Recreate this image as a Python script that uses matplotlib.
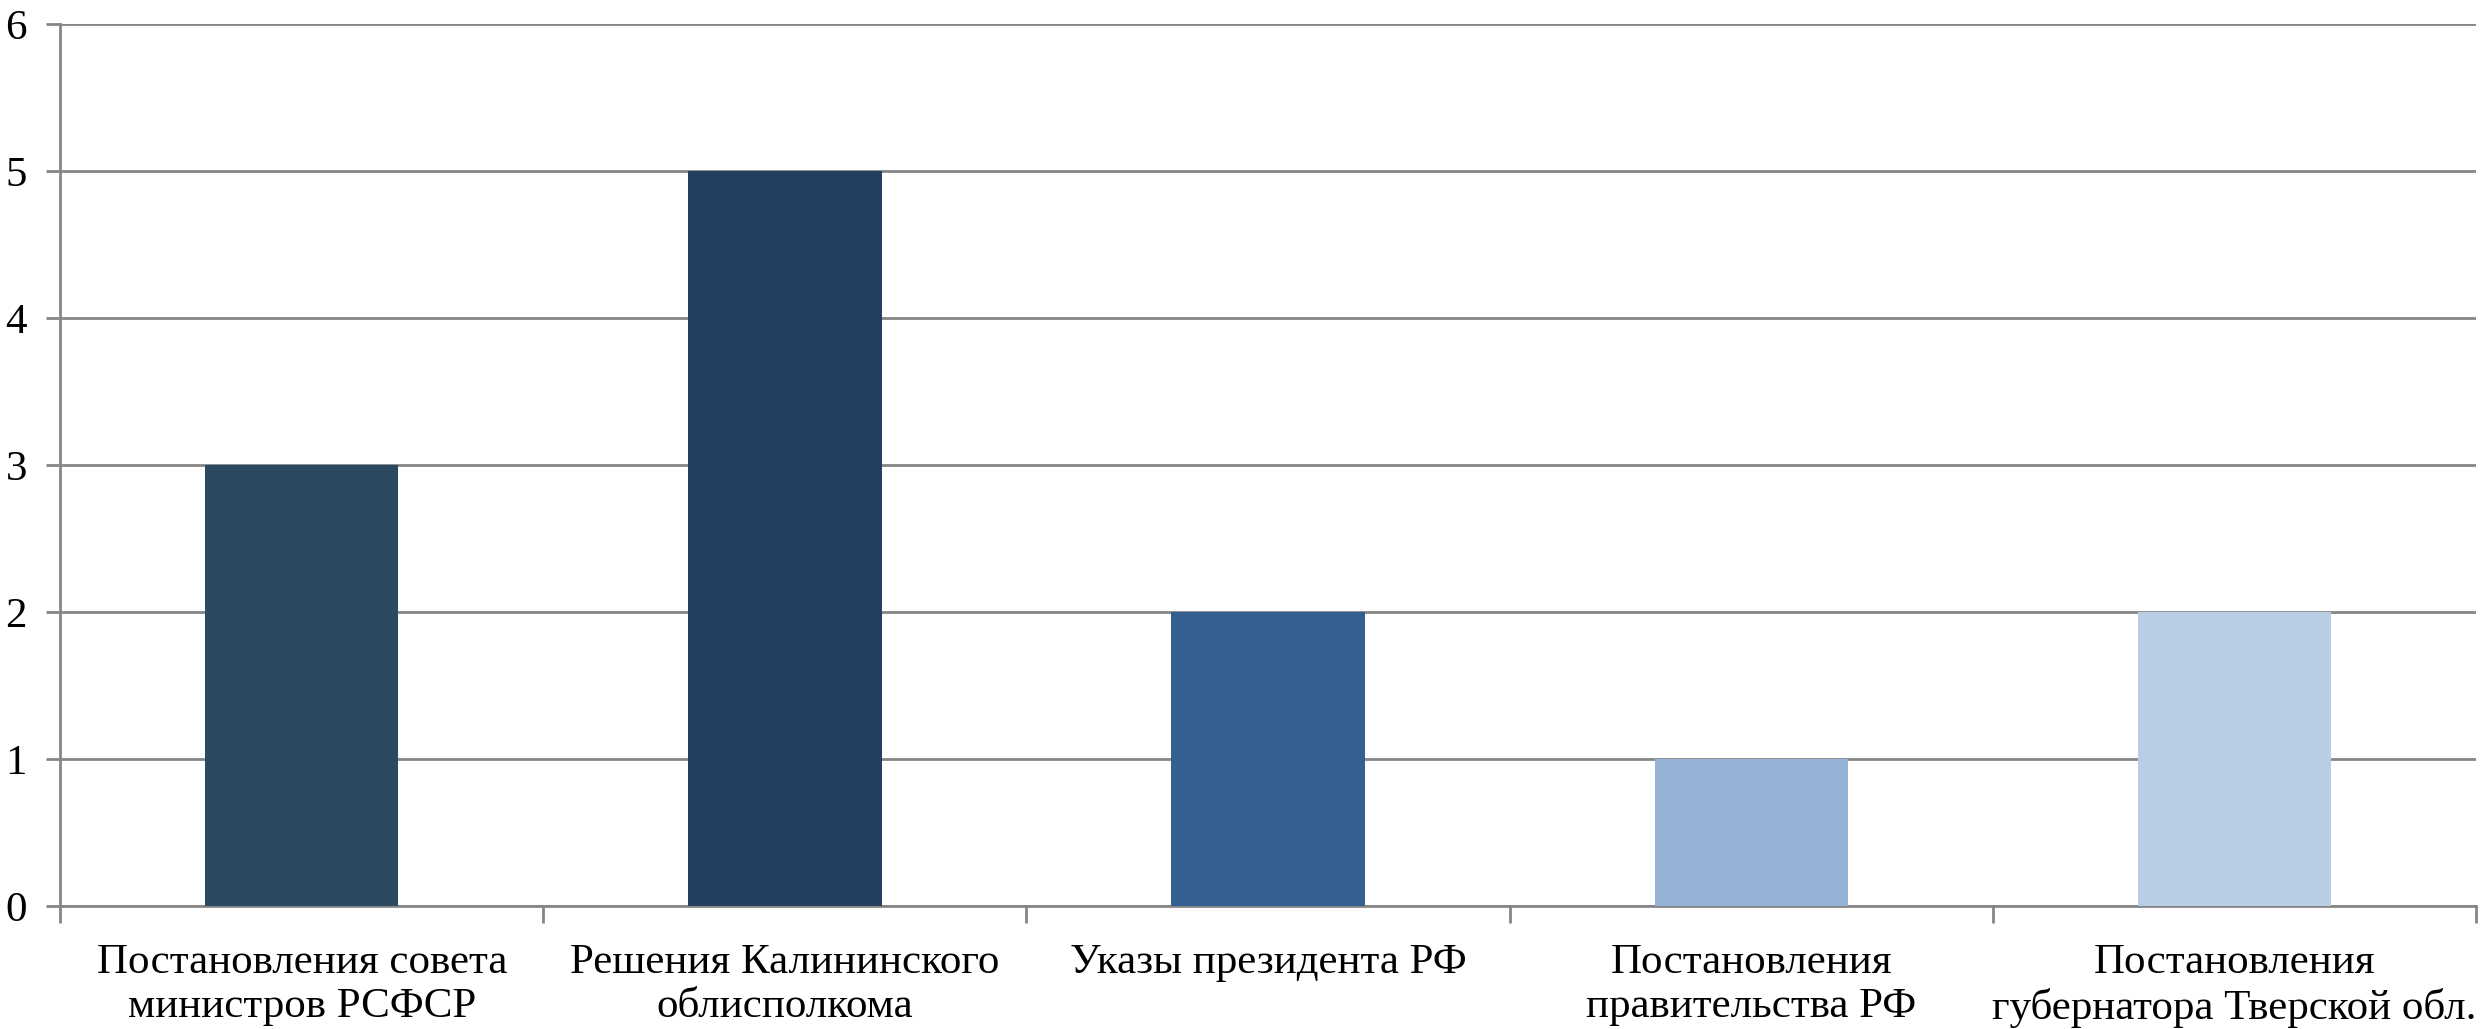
import numpy as np
import matplotlib.pyplot as plt

plt.rcParams["font.family"] = ["Liberation Serif", "DejaVu Serif"]

categories = [
    "Постановления совета\nминистров РСФСР",
    "Решения Калининского\nоблисполкома",
    "Указы президента РФ",
    "Постановления\nправительства РФ",
    "Постановления\nгубернатора Тверской обл.",
]
values = [3, 5, 2, 1, 2]
colors = ["#2A4A63", "#243F60", "#376092", "#95B3D7", "#B9CDE5"]

fig = plt.figure(figsize=(24.84, 10.29), dpi=100)
ax = fig.add_axes([0.0242, 0.1195, 0.9726, 0.8574])

x = np.arange(len(categories))
ax.bar(x, values, width=0.4, color=colors, zorder=3)

grid_color = "#868686"
ax.set_xlim(-0.5, len(categories) - 0.5)
ax.set_ylim(0, 6)
ax.set_yticks(range(0, 7))
ax.yaxis.grid(True, color=grid_color, linewidth=2, zorder=0)

ax.set_xticks(x)
ax.set_xticklabels(categories, fontsize=31, linespacing=1.2)
ax.set_xticks(np.arange(-0.5, len(categories)), minor=True)
ax.tick_params(axis="x", which="major", length=0, pad=27)
ax.tick_params(axis="x", which="minor", length=12, width=2, color=grid_color)
ax.tick_params(axis="y", length=10, width=2, color=grid_color, labelsize=31, pad=14)

for s in ["top", "right"]:
    ax.spines[s].set_visible(False)
for s in ["left", "bottom"]:
    ax.spines[s].set_color(grid_color)
    ax.spines[s].set_linewidth(2)

fig.savefig("out.png", dpi=100)
